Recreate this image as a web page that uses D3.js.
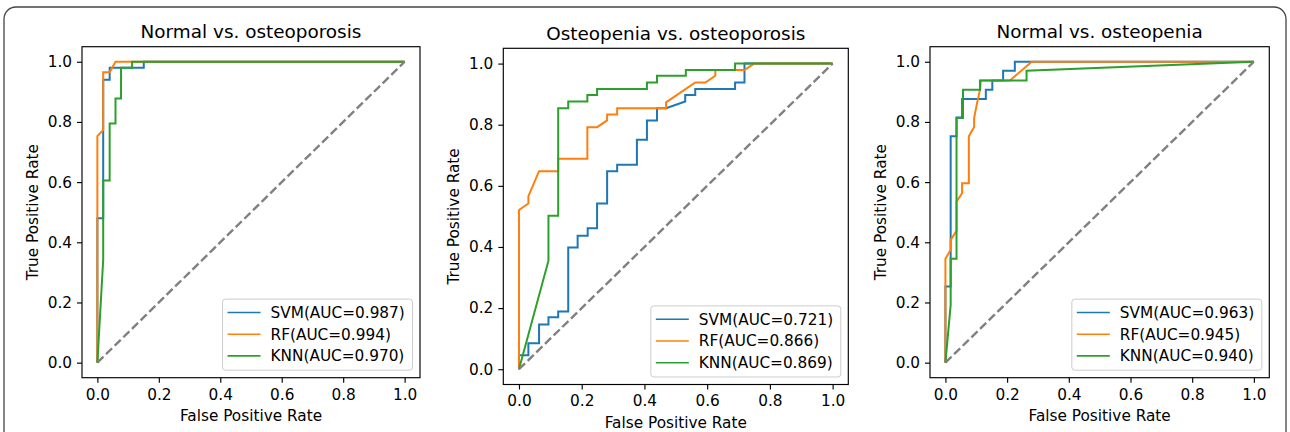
<!DOCTYPE html>
<meta charset="utf-8">
<head>
<style>
    body {margin: 0; background: #fff;}
    text {font-family: "DejaVu Sans", sans-serif; fill: #000;}
</style>
</head>
<body>
<div class="chart"></div>
<script src="https://d3js.org/d3.v7.min.js"></script>
<script>
// panel titles and legend labels
var titles = ["Normal vs. osteoporosis", "Osteopenia vs. osteoporosis", "Normal vs. osteopenia"];
var models = ["SVM", "RF", "KNN"];
var aucs = [["0.987", "0.994", "0.970"], ["0.721", "0.866", "0.869"], ["0.963", "0.945", "0.940"]];
var ticks = [0, 0.2, 0.4, 0.6, 0.8, 1.0];

// ROC points [fpr, tpr]
var norm_op_svm = [[0,0],[0,0.48],[0.019,0.48],[0.019,0.94],[0.04,0.94],[0.04,0.98],[0.151,0.98],[0.151,1],[1,1]];
var norm_op_rf = [[0,0],[0,0.753],[0.019,0.773],[0.019,0.965],[0.04,0.965],[0.059,1],[1,1]];
var norm_op_knn = [[0,0],[0.019,0.342],[0.019,0.605],[0.04,0.605],[0.04,0.795],[0.059,0.795],[0.059,0.878],
    [0.077,0.878],[0.077,0.98],[0.113,0.98],[0.113,1],[1,1]];

var pen_op_svm = [[0,0],[0,0.046],[0.03,0.046],[0.03,0.085],[0.064,0.085],[0.064,0.146],[0.094,0.146],[0.094,0.17],
    [0.125,0.17],[0.125,0.189],[0.157,0.189],[0.157,0.398],[0.187,0.398],[0.187,0.437],[0.219,0.437],[0.219,0.461],
    [0.249,0.461],[0.249,0.542],[0.281,0.542],[0.281,0.648],[0.313,0.648],[0.313,0.669],[0.376,0.669],[0.376,0.751],
    [0.408,0.751],[0.408,0.814],[0.44,0.814],[0.44,0.854],[0.469,0.854],[0.53,0.876],[0.53,0.897],[0.562,0.897],
    [0.562,0.917],[0.689,0.917],[0.689,0.938],[0.719,0.938],[0.719,1],[1,1]];
var pen_op_rf = [[0,0],[0,0.521],[0.03,0.542],[0.03,0.566],[0.064,0.648],[0.125,0.648],[0.125,0.689],[0.218,0.689],
    [0.218,0.792],[0.249,0.792],[0.281,0.814],[0.281,0.833],[0.313,0.833],[0.313,0.854],[0.469,0.854],[0.469,0.873],
    [0.562,0.938],[0.594,0.938],[0.626,0.96],[0.626,0.979],[0.719,0.979],[0.75,1],[1,1]];
var pen_op_knn = [[0,0],[0.094,0.355],[0.094,0.502],[0.125,0.502],[0.125,0.854],[0.157,0.854],[0.157,0.876],
    [0.218,0.876],[0.218,0.897],[0.249,0.897],[0.249,0.917],[0.408,0.917],[0.408,0.938],[0.44,0.938],[0.44,0.96],
    [0.532,0.96],[0.532,0.979],[0.689,0.979],[0.689,1],[1,1]];

var norm_pen_svm = [[0,0],[0,0.253],[0.017,0.253],[0.017,0.752],[0.036,0.752],[0.036,0.815],[0.054,0.815],
    [0.054,0.876],[0.131,0.876],[0.131,0.907],[0.152,0.907],[0.152,0.938],[0.187,0.938],[0.187,0.97],
    [0.225,0.97],[0.225,1],[1,1]];
var norm_pen_rf = [[0,0],[0,0.345],[0.017,0.375],[0.017,0.408],[0.036,0.438],[0.036,0.535],[0.054,0.563],
    [0.054,0.596],[0.076,0.596],[0.076,0.752],[0.093,0.783],[0.093,0.813],[0.102,0.86],[0.112,0.907],
    [0.115,0.938],[0.209,0.938],[0.28,1],[1,1]];
var norm_pen_knn = [[0,0],[0.017,0.192],[0.017,0.345],[0.036,0.345],[0.036,0.813],[0.057,0.813],[0.057,0.907],
    [0.112,0.907],[0.112,0.938],[0.263,0.938],[0.263,0.97],[1,1]];

var curves = [
    [norm_op_svm, norm_op_rf, norm_op_knn],
    [pen_op_svm, pen_op_rf, pen_op_knn],
    [norm_pen_svm, norm_pen_rf, norm_pen_knn]
];
var colors = ["#1f77b4", "#ff7f0e", "#2ca02c"];

// axes boxes in pixels
var boxes = [
    {left: 82, right: 420, top: 46.7, bottom: 377.7},
    {left: 503.3, right: 848.3, top: 48.3, bottom: 384.5},
    {left: 930, right: 1269.3, top: 46.7, bottom: 377.7}
];
var fs = 15.3, title_fs = 18.4;

var svg = d3.select(".chart").append("svg")
    .attr("width", 1290)
    .attr("height", 432);

// outer rounded frame
svg.append("rect")
    .attr("x", 4).attr("y", 7)
    .attr("width", 1282).attr("height", 460)
    .attr("rx", 12)
    .attr("fill", "none")
    .attr("stroke", "#444")
    .attr("stroke-width", 1.3);

boxes.forEach(function (b, i) {
    draw_panel(b, i);
});

function draw_panel(b, i) {
    var x = d3.scaleLinear().domain([-0.05, 1.05]).range([b.left, b.right]);
    var y = d3.scaleLinear().domain([-0.05, 1.05]).range([b.bottom, b.top]);
    var g = svg.append("g");

    var line = d3.line()
        .x(function (d) { return x(d[0]); })
        .y(function (d) { return y(d[1]); });

    curves[i].forEach(function (c, j) {
        g.append("path")
            .datum(c)
            .attr("d", line)
            .attr("fill", "none")
            .attr("stroke", colors[j])
            .attr("stroke-width", 2)
            .attr("stroke-linejoin", "miter");
    });

    // chance line
    g.append("path")
        .datum([[0, 0], [1, 1]])
        .attr("d", line)
        .attr("fill", "none")
        .attr("stroke", "#808080")
        .attr("stroke-width", 2.4)
        .attr("stroke-dasharray", "8.5,3.6");

    // axes
    var xa = g.append("g")
        .attr("transform", "translate(0," + b.bottom + ")")
        .call(d3.axisBottom(x).tickValues(ticks).tickFormat(d3.format(".1f")).tickSizeOuter(0).tickSize(5).tickPadding(6));
    var ya = g.append("g")
        .attr("transform", "translate(" + b.left + ",0)")
        .call(d3.axisLeft(y).tickValues(ticks).tickFormat(d3.format(".1f")).tickSizeOuter(0).tickSize(5).tickPadding(5));
    [xa, ya].forEach(function (a) {
        a.select(".domain").remove();
        a.selectAll("line").attr("stroke", "#000").attr("stroke-width", 1.15);
        a.selectAll("text").attr("font-size", fs).attr("font-family", "DejaVu Sans").attr("fill", "#000");
    });

    g.append("rect")
        .attr("x", b.left).attr("y", b.top)
        .attr("width", b.right - b.left).attr("height", b.bottom - b.top)
        .attr("fill", "none")
        .attr("stroke", "#000")
        .attr("stroke-width", 1.15);

    // titles and labels
    g.append("text")
        .attr("x", (b.left + b.right) / 2).attr("y", b.top - 8.7)
        .attr("text-anchor", "middle")
        .attr("font-size", title_fs)
        .text(titles[i]);
    g.append("text")
        .attr("x", (b.left + b.right) / 2).attr("y", b.bottom + 43.5)
        .attr("text-anchor", "middle")
        .attr("font-size", fs)
        .text("False Positive Rate");
    g.append("text")
        .attr("transform", "translate(" + (b.left - 44) + "," + (b.top + b.bottom) / 2 + ") rotate(-90)")
        .attr("text-anchor", "middle")
        .attr("font-size", fs)
        .text("True Positive Rate");

    // legend, lower right
    var lg = g.append("g");
    var frame = lg.append("rect");
    var labels = models.map(function (m, j) { return m + "(AUC=" + aucs[i][j] + ")"; });
    var texts = labels.map(function (t, j) {
        return lg.append("text")
            .attr("font-size", fs)
            .attr("dy", "0.35em")
            .attr("y", 13.4 + j * 21.7)
            .attr("x", 48)
            .text(t);
    });
    var tw = d3.max(texts, function (t) { return t.node().getComputedTextLength(); });
    var lw = 48 + tw + 7.7, lh = 71.1;
    labels.forEach(function (t, j) {
        lg.append("line")
            .attr("x1", 5).attr("x2", 38)
            .attr("y1", 13.4 + j * 21.7).attr("y2", 13.4 + j * 21.7)
            .attr("stroke", colors[j])
            .attr("stroke-width", 1.6);
    });
    frame.attr("width", lw).attr("height", lh)
        .attr("rx", 3)
        .attr("fill", "#fff").attr("fill-opacity", 0.8)
        .attr("stroke", "#ccc").attr("stroke-width", 1);
    lg.attr("transform", "translate(" + (b.right - 7.5 - lw) + "," + (b.bottom - 7.5 - lh) + ")");
}
</script>
</body>
